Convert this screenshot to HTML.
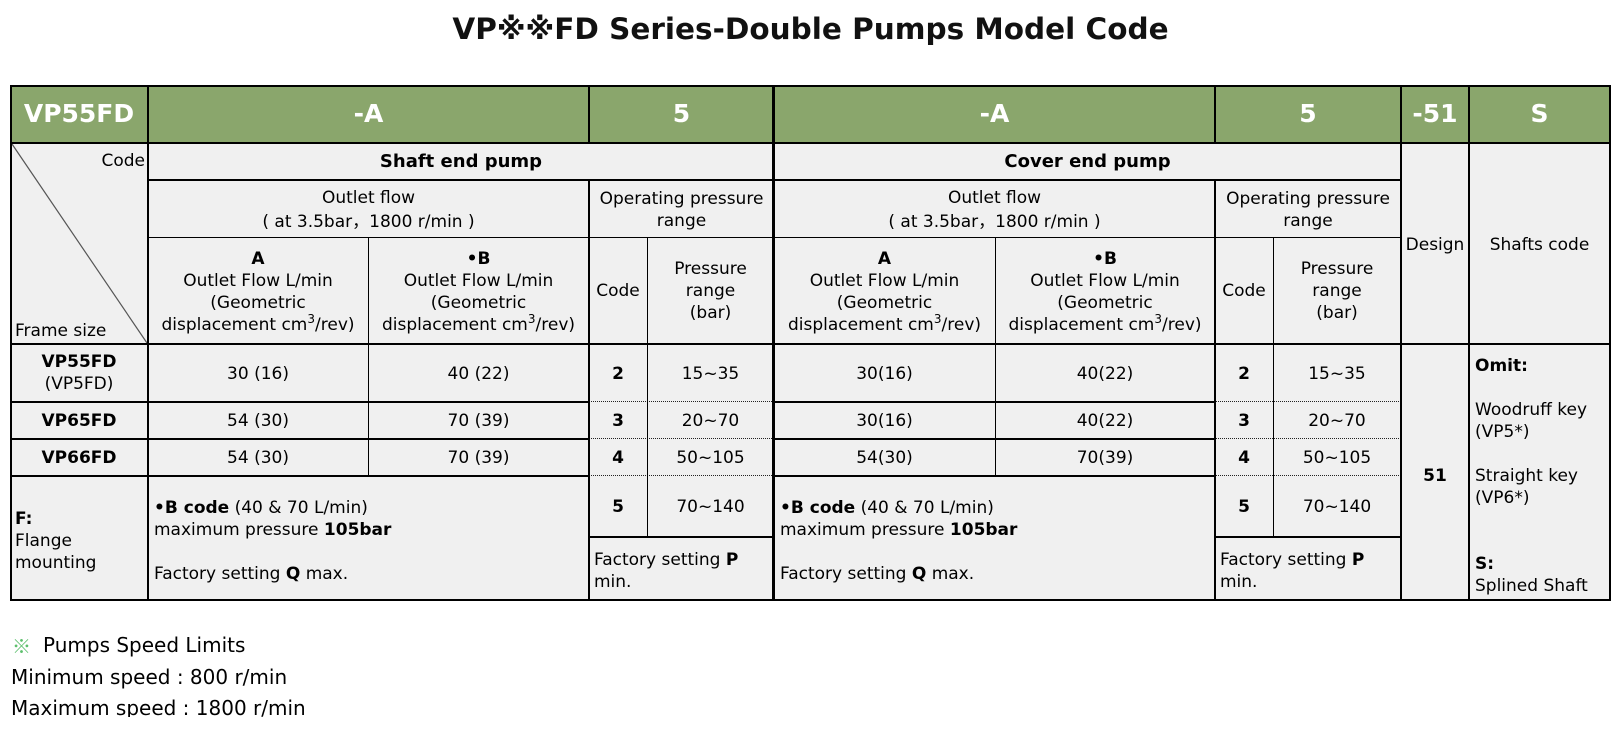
<!DOCTYPE html>
<html>
<head>
<meta charset="utf-8">
<style>
  html, body { margin:0; padding:0; background:#fff; }
  body { width:1621px; height:740px; position:relative; overflow:hidden;
         font-family:"DejaVu Sans","Liberation Sans","Noto Sans CJK SC",sans-serif; color:#000; }
  .title { position:absolute; left:0; top:11px; width:1621px; height:36px; line-height:36px;
           text-align:center; font-size:29.5px; font-weight:bold; color:#111; }
  .bg { position:absolute; left:10px; top:86px; width:1600px; height:514px; background:#f0f0f0; }
  .hbg { position:absolute; left:10px; top:86px; width:1600px; height:56px; background:#8aa66c; }
  .c { position:absolute; display:flex; align-items:center; justify-content:center;
       text-align:center; font-size:17px; line-height:22px; white-space:nowrap; box-sizing:border-box; }
  .h { color:#fff; font-weight:bold; font-size:25px; }
  .l { justify-content:flex-start; text-align:left; }
  .ln { position:absolute; background:#000; }
  .dot { position:absolute; height:0; border-top:1px dotted #222; }
  sup { font-size:12px; vertical-align:7px; line-height:0; }
  .note { position:absolute; font-size:20px; line-height:31px; white-space:nowrap; color:#000; }
</style>
</head>
<body>
<div class="title">VP※※FD Series-Double Pumps Model Code</div>

<div class="bg"></div>
<div class="hbg"></div>

<!-- header codes -->
<div class="c h" style="left:10px;top:86px;width:138px;height:56px;">VP55FD</div>
<div class="c h" style="left:148px;top:86px;width:441px;height:56px;">-A</div>
<div class="c h" style="left:589px;top:86px;width:185px;height:56px;">5</div>
<div class="c h" style="left:774px;top:86px;width:441px;height:56px;">-A</div>
<div class="c h" style="left:1215px;top:86px;width:186px;height:56px;">5</div>
<div class="c h" style="left:1401px;top:86px;width:68px;height:56px;">-51</div>
<div class="c h" style="left:1469px;top:86px;width:141px;height:56px;">S</div>

<!-- diagonal frame cell -->
<svg style="position:absolute;left:0;top:0;" width="1621" height="740">
  <line x1="12" y1="144" x2="147" y2="343" stroke="#555" stroke-width="1.2"/>
</svg>
<div class="c" style="left:60px;top:150px;width:85px;height:22px;justify-content:flex-end;">Code</div>
<div class="c l" style="left:15px;top:320px;width:120px;height:22px;">Frame size</div>

<!-- section headers -->
<div class="c" style="left:148px;top:143px;width:626px;height:37px;font-weight:bold;font-size:18px;">Shaft end pump</div>
<div class="c" style="left:774px;top:143px;width:627px;height:37px;font-weight:bold;font-size:18px;">Cover end pump</div>

<div class="c" style="left:148px;top:180px;width:441px;height:58px;padding-top:2px;"><div>Outlet flow<br>( at 3.5bar<span style="font-family:'Noto Sans CJK SC',sans-serif;">，</span>1800 r/min )</div></div>
<div class="c" style="left:589px;top:180px;width:185px;height:58px;padding-top:2px;"><div>Operating pressure<br>range</div></div>
<div class="c" style="left:774px;top:180px;width:441px;height:58px;padding-top:2px;"><div>Outlet flow<br>( at 3.5bar<span style="font-family:'Noto Sans CJK SC',sans-serif;">，</span>1800 r/min )</div></div>
<div class="c" style="left:1215px;top:180px;width:186px;height:58px;padding-top:2px;"><div>Operating pressure<br>range</div></div>

<div class="c" style="left:148px;top:238px;width:220px;height:106px;padding-top:2px;"><div><b>A</b><br>Outlet Flow L/min<br>(Geometric<br>displacement cm<sup>3</sup>/rev)</div></div>
<div class="c" style="left:368px;top:238px;width:221px;height:106px;padding-top:2px;"><div><b>•B</b><br>Outlet Flow L/min<br>(Geometric<br>displacement cm<sup>3</sup>/rev)</div></div>
<div class="c" style="left:589px;top:238px;width:58px;height:106px;">Code</div>
<div class="c" style="left:647px;top:238px;width:127px;height:106px;"><div>Pressure<br>range<br>(bar)</div></div>
<div class="c" style="left:774px;top:238px;width:221px;height:106px;padding-top:2px;"><div><b>A</b><br>Outlet Flow L/min<br>(Geometric<br>displacement cm<sup>3</sup>/rev)</div></div>
<div class="c" style="left:995px;top:238px;width:220px;height:106px;padding-top:2px;"><div><b>•B</b><br>Outlet Flow L/min<br>(Geometric<br>displacement cm<sup>3</sup>/rev)</div></div>
<div class="c" style="left:1215px;top:238px;width:58px;height:106px;">Code</div>
<div class="c" style="left:1273px;top:238px;width:128px;height:106px;"><div>Pressure<br>range<br>(bar)</div></div>

<div class="c" style="left:1401px;top:143px;width:68px;height:201px;padding-top:3px;">Design</div>
<div class="c" style="left:1469px;top:143px;width:141px;height:201px;padding-top:3px;">Shafts code</div>

<!-- body row 1 -->
<div class="c" style="left:10px;top:344px;width:138px;height:58px;"><div><b>VP55FD</b><br>(VP5FD)</div></div>
<div class="c" style="left:148px;top:344px;width:220px;height:58px;padding-top:2px;">30 (16)</div>
<div class="c" style="left:368px;top:344px;width:221px;height:58px;padding-top:2px;">40 (22)</div>
<div class="c" style="left:589px;top:344px;width:58px;height:58px;font-weight:bold;padding-top:2px;">2</div>
<div class="c" style="left:647px;top:344px;width:127px;height:58px;padding-top:2px;">15~35</div>
<div class="c" style="left:774px;top:344px;width:221px;height:58px;padding-top:2px;">30(16)</div>
<div class="c" style="left:995px;top:344px;width:220px;height:58px;padding-top:2px;">40(22)</div>
<div class="c" style="left:1215px;top:344px;width:58px;height:58px;font-weight:bold;padding-top:2px;">2</div>
<div class="c" style="left:1273px;top:344px;width:128px;height:58px;padding-top:2px;">15~35</div>

<!-- body row 2 -->
<div class="c" style="left:10px;top:402px;width:138px;height:37px;font-weight:bold;">VP65FD</div>
<div class="c" style="left:148px;top:402px;width:220px;height:37px;">54 (30)</div>
<div class="c" style="left:368px;top:402px;width:221px;height:37px;">70 (39)</div>
<div class="c" style="left:589px;top:402px;width:58px;height:37px;font-weight:bold;">3</div>
<div class="c" style="left:647px;top:402px;width:127px;height:37px;">20~70</div>
<div class="c" style="left:774px;top:402px;width:221px;height:37px;">30(16)</div>
<div class="c" style="left:995px;top:402px;width:220px;height:37px;">40(22)</div>
<div class="c" style="left:1215px;top:402px;width:58px;height:37px;font-weight:bold;">3</div>
<div class="c" style="left:1273px;top:402px;width:128px;height:37px;">20~70</div>

<!-- body row 3 -->
<div class="c" style="left:10px;top:439px;width:138px;height:37px;font-weight:bold;">VP66FD</div>
<div class="c" style="left:148px;top:439px;width:220px;height:37px;">54 (30)</div>
<div class="c" style="left:368px;top:439px;width:221px;height:37px;">70 (39)</div>
<div class="c" style="left:589px;top:439px;width:58px;height:37px;font-weight:bold;">4</div>
<div class="c" style="left:647px;top:439px;width:127px;height:37px;">50~105</div>
<div class="c" style="left:774px;top:439px;width:221px;height:37px;">54(30)</div>
<div class="c" style="left:995px;top:439px;width:220px;height:37px;">70(39)</div>
<div class="c" style="left:1215px;top:439px;width:58px;height:37px;font-weight:bold;">4</div>
<div class="c" style="left:1273px;top:439px;width:128px;height:37px;">50~105</div>

<!-- body row 4/5 -->
<div class="c l" style="left:10px;top:476px;width:138px;height:124px;padding-left:5px;padding-top:5px;"><div><b>F:</b><br>Flange<br>mounting</div></div>
<div class="c l" style="left:148px;top:476px;width:441px;height:124px;padding-left:6px;padding-top:5px;"><div><b>•B code</b> (40 &amp; 70 L/min)<br>maximum pressure <b>105bar</b><br>&nbsp;<br>Factory setting <b>Q</b> max.</div></div>
<div class="c" style="left:589px;top:476px;width:58px;height:61px;font-weight:bold;">5</div>
<div class="c" style="left:647px;top:476px;width:127px;height:61px;">70~140</div>
<div class="c l" style="left:589px;top:537px;width:185px;height:63px;padding-left:5px;padding-top:4px;"><div>Factory setting <b>P</b><br>min.</div></div>

<div class="c l" style="left:774px;top:476px;width:441px;height:124px;padding-left:6px;padding-top:5px;"><div><b>•B code</b> (40 &amp; 70 L/min)<br>maximum pressure <b>105bar</b><br>&nbsp;<br>Factory setting <b>Q</b> max.</div></div>
<div class="c" style="left:1215px;top:476px;width:58px;height:61px;font-weight:bold;">5</div>
<div class="c" style="left:1273px;top:476px;width:128px;height:61px;">70~140</div>
<div class="c l" style="left:1215px;top:537px;width:186px;height:63px;padding-left:5px;padding-top:4px;"><div>Factory setting <b>P</b><br>min.</div></div>

<div class="c" style="left:1401px;top:344px;width:68px;height:256px;font-weight:bold;padding-top:7px;">51</div>
<div class="c l" style="left:1469px;top:344px;width:141px;height:256px;padding-left:6px;padding-top:8px;"><div><b>Omit:</b><br>&nbsp;<br>Woodruff key<br>(VP5*)<br>&nbsp;<br>Straight key<br>(VP6*)<br>&nbsp;<br>&nbsp;<br><b>S:</b><br>Splined Shaft</div></div>

<!-- outer border -->
<div class="ln" style="left:10px;top:85px;width:1601px;height:2px;"></div>
<div class="ln" style="left:10px;top:599px;width:1601px;height:2px;"></div>
<div class="ln" style="left:10px;top:85px;width:2px;height:516px;"></div>
<div class="ln" style="left:1609px;top:85px;width:2px;height:516px;"></div>

<!-- horizontal lines -->
<div class="ln" style="left:10px;top:142px;width:1601px;height:2px;"></div>
<div class="ln" style="left:148px;top:179px;width:1253px;height:2px;"></div>
<div class="ln" style="left:148px;top:237px;width:1253px;height:1px;"></div>
<div class="ln" style="left:10px;top:343px;width:1601px;height:2px;"></div>

<div class="ln" style="left:10px;top:401px;width:579px;height:2px;"></div>
<div class="ln" style="left:10px;top:438px;width:579px;height:2px;"></div>
<div class="ln" style="left:10px;top:475px;width:579px;height:2px;"></div>
<div class="ln" style="left:774px;top:401px;width:441px;height:2px;"></div>
<div class="ln" style="left:774px;top:438px;width:441px;height:2px;"></div>
<div class="ln" style="left:774px;top:475px;width:441px;height:2px;"></div>

<div class="dot" style="left:589px;top:401px;width:185px;"></div>
<div class="dot" style="left:589px;top:438px;width:185px;"></div>
<div class="dot" style="left:589px;top:475px;width:185px;"></div>
<div class="dot" style="left:1215px;top:401px;width:186px;"></div>
<div class="dot" style="left:1215px;top:438px;width:186px;"></div>
<div class="dot" style="left:1215px;top:475px;width:186px;"></div>

<div class="ln" style="left:589px;top:536px;width:185px;height:2px;"></div>
<div class="ln" style="left:1215px;top:536px;width:186px;height:2px;"></div>

<!-- vertical lines -->
<div class="ln" style="left:147px;top:85px;width:2px;height:516px;"></div>
<div class="ln" style="left:588px;top:85px;width:2px;height:58px;"></div>
<div class="ln" style="left:588px;top:179px;width:2px;height:422px;"></div>
<div class="ln" style="left:772px;top:85px;width:3px;height:516px;"></div>
<div class="ln" style="left:1214px;top:85px;width:2px;height:58px;"></div>
<div class="ln" style="left:1214px;top:179px;width:2px;height:422px;"></div>
<div class="ln" style="left:1400px;top:85px;width:2px;height:516px;"></div>
<div class="ln" style="left:1468px;top:85px;width:2px;height:516px;"></div>

<div class="ln" style="left:368px;top:238px;width:1px;height:238px;"></div>
<div class="ln" style="left:995px;top:238px;width:1px;height:238px;"></div>
<div class="ln" style="left:647px;top:238px;width:1px;height:299px;"></div>
<div class="ln" style="left:1273px;top:238px;width:1px;height:299px;"></div>

<!-- notes -->
<div class="note" style="left:12px;top:630px;color:#5cbf6c;font-family:'Noto Sans CJK SC','DejaVu Sans',sans-serif;font-size:19px;">※</div>
<div class="note" style="left:43px;top:630px;">Pumps Speed Limits</div>
<div class="note" style="left:11px;top:662px;">Minimum speed : 800 r/min</div>
<div class="note" style="left:11px;top:693px;">Maximum speed : 1800 r/min</div>
<div style="position:absolute;left:0;top:717px;width:1621px;height:23px;background:#fff;"></div>
</body>
</html>
